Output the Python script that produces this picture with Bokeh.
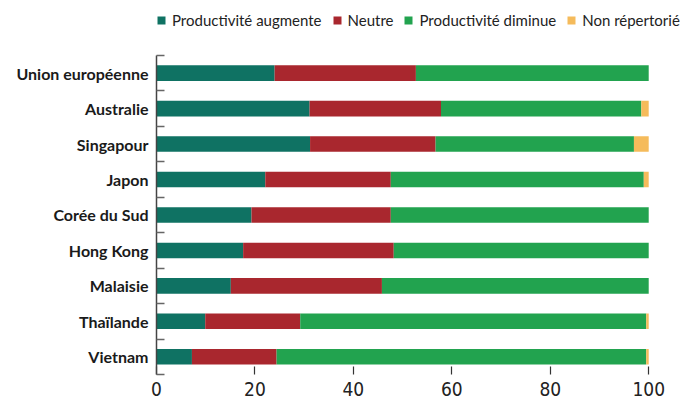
from bokeh.plotting import figure
from bokeh.models import ColumnDataSource, Range1d, FixedTicker, Legend, LegendItem
from bokeh.embed import file_html
from bokeh.resources import INLINE

countries = ["Union européenne", "Australie", "Singapour", "Japon", "Corée du Sud",
             "Hong Kong", "Malaisie", "Thaïlande", "Vietnam"]
augmente = [24.0, 31.1, 31.2, 22.1, 19.3, 17.6, 15.1, 9.9, 7.2]
neutre = [28.7, 26.7, 25.5, 25.5, 28.3, 30.6, 30.7, 19.3, 17.2]
diminue = [47.3, 40.7, 40.3, 51.4, 52.4, 51.8, 54.2, 70.3, 75.1]
non_rep = [0.0, 1.5, 3.0, 1.0, 0.0, 0.0, 0.0, 0.5, 0.5]
series_labels = ["Productivité augmente", "Neutre", "Productivité diminue", "Non répertorié"]
x_ticks = [0, 20, 40, 60, 80, 100]

colors = ["#0F7263", "#A9272E", "#22A34F", "#F5BB5B"]
n = len(countries)
ypos = [n - 0.5 - i for i in range(n)]

source = ColumnDataSource(dict(y=ypos, aug=augmente, neu=neutre, dim=diminue, nr=non_rep))

# frame extends above and to the right of the data area so that the legend fits inside it
p = figure(width=693, height=403, output_backend="svg", toolbar_location=None,
           x_range=Range1d(0, 109.1), y_range=Range1d(0, 10.55),
           min_border_left=156, min_border_right=0, min_border_top=0, min_border_bottom=29)
p.outline_line_color = None
p.grid.visible = False
p.background_fill_color = "white"

renderers = p.hbar_stack(["aug", "neu", "dim", "nr"], y="y", height=0.44, color=colors,
                         source=source, line_color=None)

# x axis
xa = p.xaxis[0]
xa.ticker = FixedTicker(ticks=x_ticks, minor_ticks=[])
xa.bounds = (0, 100)
xa.axis_line_color = None
xa.major_tick_in = 8
xa.major_tick_out = 0
xa.major_tick_line_color = "#333333"
xa.major_tick_line_width = 1.2
xa.minor_tick_line_color = None
xa.major_label_text_font = "'DejaVu Sans Condensed', 'Liberation Sans', sans-serif"
xa.major_label_text_font_size = "19px"
xa.major_label_text_color = "#222222"
xa.major_label_standoff = 7

# y axis
ya = p.yaxis[0]
boundaries = list(range(n + 1))
ya.ticker = FixedTicker(ticks=ypos, minor_ticks=boundaries)
ya.bounds = (0, n)
ya.major_label_overrides = {v: c for v, c in zip(ypos, countries)}
ya.major_tick_line_color = None
ya.minor_tick_in = 8
ya.minor_tick_out = 0
ya.minor_tick_line_color = "#666666"
ya.minor_tick_line_width = 1.5
ya.axis_line_color = "#444444"
ya.axis_line_width = 1.5
ya.major_label_text_font = "Lato"
ya.major_label_text_font_style = "bold"
ya.major_label_text_font_size = "16px"
ya.major_label_text_color = "#1a1a1a"
ya.major_label_standoff = 2

items = [LegendItem(label=lab, renderers=[r]) for lab, r in zip(series_labels, renderers)]
legend = Legend(items=items, orientation="horizontal", location=(0, 345),
                glyph_width=10, glyph_height=10, label_standoff=6, spacing=10, padding=0,
                margin=0, label_text_font="Lato", label_text_font_size="15px",
                label_text_color="#222222", border_line_color=None,
                background_fill_alpha=0, label_height=16)
p.add_layout(legend, "center")

open("out.html", "w").write(file_html(p, INLINE))
